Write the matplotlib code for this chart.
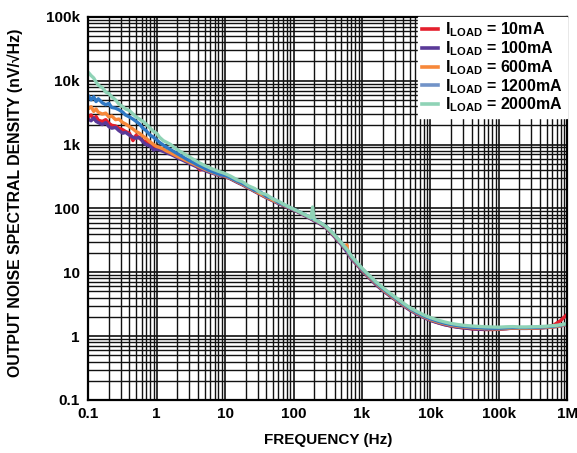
import matplotlib
matplotlib.use('Agg')
import matplotlib.pyplot as plt
from matplotlib.ticker import FixedLocator, LogLocator, NullFormatter

plt.rcParams['font.family'] = ['Liberation Sans', 'DejaVu Sans']
plt.rcParams['mathtext.fontset'] = 'custom'
plt.rcParams['mathtext.rm'] = 'Liberation Sans:bold'
plt.rcParams['mathtext.bf'] = 'Liberation Sans:bold'

# frequency points (Hz)
freq = [0.1, 0.11, 0.12, 0.13, 0.14, 0.16, 0.18, 0.2, 0.22, 0.25,
        0.28, 0.32, 0.35, 0.4, 0.45, 0.5, 0.56, 0.63, 0.7, 0.8,
        0.9, 1.0, 1.1, 1.25, 1.4, 1.6, 1.8, 2.0, 2.3, 2.6,
        3.0, 3.4, 3.8, 4.3, 5.0, 5.6, 6.3, 7.1, 8.0, 9.0,
        10, 12, 15, 18, 22, 27, 33, 40, 50, 60,
        75, 90, 110, 130, 160, 180, 190, 200, 220, 250,
        300, 400, 500, 580, 600, 620, 700, 850, 1000, 1300,
        1600, 2000, 2500, 3200, 4000, 5000, 6300, 8000, 1e4, 1.3e4,
        1.6e4, 2e4, 2.5e4, 3.2e4, 4e4, 5e4, 6.3e4, 8e4, 1e5, 1.3e5,
        1.6e5, 2e5, 2.5e5, 3.2e5, 4e5, 5e5, 6.3e5, 8e5, 1e6]

# noise density (nV/rtHz)
i_10ma = [2700, 2900, 2500, 2750, 2400, 2300, 2450, 2150, 2000, 1950,
          1800, 1700, 1600, 1500, 1150, 1400, 1250, 1150, 1100, 1000,
          950, 920, 880, 830, 780, 730, 680, 640, 600, 560,
          520, 490, 460, 400, 410, 385, 365, 350, 335, 325,
          318, 292, 258, 236, 210, 186, 166, 149, 133, 121,
          109, 100, 91, 83, 74, 69, 67, 65, 62, 57,
          50, 36, 27.5, 22.5, 21.5, 20.5, 16.5, 13.2, 10.8, 8.1,
          6.5, 5.3, 4.4, 3.6, 3.05, 2.6, 2.25, 1.98, 1.78, 1.62,
          1.52, 1.44, 1.38, 1.34, 1.3, 1.28, 1.27, 1.27, 1.28, 1.31,
          1.34, 1.33, 1.33, 1.34, 1.35, 1.38, 1.48, 1.75, 2.2]

i_100ma = [2500, 2350, 2600, 2300, 2200, 2050, 2200, 1900, 1800, 1850,
           1650, 1500, 1550, 1400, 1300, 1250, 1300, 1100, 1000, 950,
           820, 850, 820, 780, 740, 700, 660, 620, 580, 545,
           505, 475, 450, 420, 395, 375, 360, 345, 330, 320,
           315, 290, 256, 233, 208, 184, 164, 147, 131, 119,
           108, 99, 90, 82, 73, 68, 66, 64, 61, 56,
           49.5, 35.5, 27, 22, 21, 20, 16.2, 13, 10.6, 8.0,
           6.4, 5.2, 4.35, 3.58, 3.0, 2.56, 2.22, 1.96, 1.76, 1.61,
           1.51, 1.44, 1.38, 1.34, 1.31, 1.29, 1.28, 1.28, 1.29, 1.31,
           1.33, 1.32, 1.32, 1.33, 1.34, 1.36, 1.39, 1.44, 1.52]

i_600ma = [3600, 3900, 3300, 3600, 3200, 3000, 3100, 2700, 2800, 2450,
           2500, 2200, 2100, 1900, 1750, 1600, 1500, 1350, 1250, 1100,
           1000, 930, 900, 850, 790, 740, 690, 650, 610, 570,
           530, 500, 470, 440, 410, 390, 370, 355, 338, 328,
           320, 295, 262, 238, 212, 188, 168, 150, 134, 122,
           110, 101, 92, 84, 75, 70, 68, 66, 63, 58,
           51, 37, 28, 23, 27, 21, 17, 13.5, 11, 8.3,
           6.7, 5.4, 4.5, 3.7, 3.1, 2.65, 2.3, 2.02, 1.82, 1.66,
           1.56, 1.48, 1.42, 1.38, 1.35, 1.33, 1.31, 1.3, 1.3, 1.32,
           1.34, 1.33, 1.33, 1.34, 1.35, 1.37, 1.4, 1.45, 1.55]

i_1200ma = [5800, 5000, 5600, 4700, 5200, 4500, 4200, 4400, 3800, 3700,
            3500, 3200, 2900, 2700, 2500, 2300, 2100, 1800, 1650, 1400,
            1300, 1180, 1080, 980, 900, 830, 770, 720, 660, 610,
            560, 525, 490, 460, 425, 400, 380, 362, 345, 333,
            328, 300, 268, 245, 218, 192, 180, 154, 142, 124,
            112, 102, 93, 85, 76, 71, 69, 67, 64, 59,
            52, 38, 28.5, 23.5, 22.5, 21.5, 17.5, 13.9, 11.3, 8.6,
            6.9, 5.6, 4.65, 3.82, 3.2, 2.72, 2.36, 2.07, 1.87, 1.71,
            1.6, 1.52, 1.46, 1.41, 1.38, 1.36, 1.34, 1.33, 1.33, 1.35,
            1.37, 1.36, 1.36, 1.37, 1.38, 1.4, 1.43, 1.48, 1.57]

i_2000ma = [13500, 12000, 11000, 9500, 8500, 7800, 6600, 6300, 5600, 5000,
            4300, 3900, 3600, 3400, 3000, 2700, 2500, 2300, 2100, 1800,
            1600, 1500, 1300, 1150, 1080, 1000, 900, 830, 760, 700,
            640, 590, 550, 510, 470, 445, 420, 400, 380, 365,
            350, 320, 280, 260, 225, 205, 175, 165, 140, 130,
            113, 103, 93, 85, 76, 71, 105, 67, 64, 59,
            52, 38, 29, 24, 23, 22, 18, 14.2, 11.6, 8.8,
            7.1, 5.8, 4.8, 3.95, 3.3, 2.8, 2.45, 2.15, 1.95, 1.78,
            1.67, 1.58, 1.52, 1.47, 1.44, 1.42, 1.4, 1.39, 1.38, 1.4,
            1.41, 1.39, 1.39, 1.4, 1.41, 1.43, 1.46, 1.5, 1.58]

series = [
    (i_10ma, '10mA', '#e41f2d'),
    (i_100ma, '100mA', '#5a3a98'),
    (i_600ma, '600mA', '#f7883a'),
    (i_1200ma, '1200mA', '#2f78c4'),
    (i_2000ma, '2000mA', '#8fd3b6'),
]
legend_colors = ['#e41f2d', '#5a3a98', '#f7883a', '#7293c8', '#8fd3b6']

fig = plt.figure(figsize=(5.77, 4.53), dpi=100)
ax = fig.add_axes([0.153, 0.117, 0.830, 0.846])

for vals, lab, col in series:
    ax.plot(freq, vals, color=col, lw=2.4)

ax.set_xscale('log')
ax.set_yscale('log')
ax.set_xlim(0.1, 1e6)
ax.set_ylim(0.1, 1e5)

xt = [0.1, 1, 10, 100, 1e3, 1e4, 1e5, 1e6]
yt = [0.1, 1, 10, 100, 1e3, 1e4, 1e5]
ax.xaxis.set_major_locator(FixedLocator(xt))
ax.yaxis.set_major_locator(FixedLocator(yt))
ax.set_xticklabels(['0.1', '1', '10', '100', '1k', '10k', '100k', '1M'],
                   fontsize=11, fontweight='bold')
ax.set_yticklabels(['0.1', '1', '10', '100', '1k', '10k', '100k'],
                   fontsize=11, fontweight='bold')
ax.xaxis.set_minor_locator(LogLocator(base=10, subs=range(2, 10), numticks=20))
ax.yaxis.set_minor_locator(LogLocator(base=10, subs=range(2, 10), numticks=20))
ax.xaxis.set_minor_formatter(NullFormatter())
ax.yaxis.set_minor_formatter(NullFormatter())
ax.tick_params(which='both', length=0)
ax.tick_params(axis='y', pad=6)
ax.tick_params(axis='x', pad=5)

ax.grid(which='major', color='#111111', lw=1.2)
ax.grid(which='minor', color='#111111', lw=1.0)
ax.set_axisbelow(True)
for sp in ax.spines.values():
    sp.set_linewidth(1.6)
    sp.set_color('black')

ax.set_xlabel('FREQUENCY (Hz)', fontsize=11, fontweight='bold', labelpad=9)
ax.set_ylabel('OUTPUT NOISE SPECTRAL DENSITY (nV/√Hz)', fontsize=11.4,
              fontweight='bold')
ax.yaxis.set_label_coords(-0.137, 0.514)

# legend
handles = [plt.Line2D([], [], color=c, lw=2.6) for c in legend_colors]
labels = [r'I$_{\mathrm{LOAD}}$ = ' + s[1] for s in series]
leg = ax.legend(handles, labels, loc='upper right', bbox_to_anchor=(1.0, 1.0),
                frameon=True, fancybox=False, framealpha=1, edgecolor='white',
                borderaxespad=0.0, handlelength=1.0, handletextpad=0.45,
                labelspacing=0.0, borderpad=0.25,
                prop={'weight': 'bold', 'size': 11.5})

fig.savefig('out.png', dpi=100)
